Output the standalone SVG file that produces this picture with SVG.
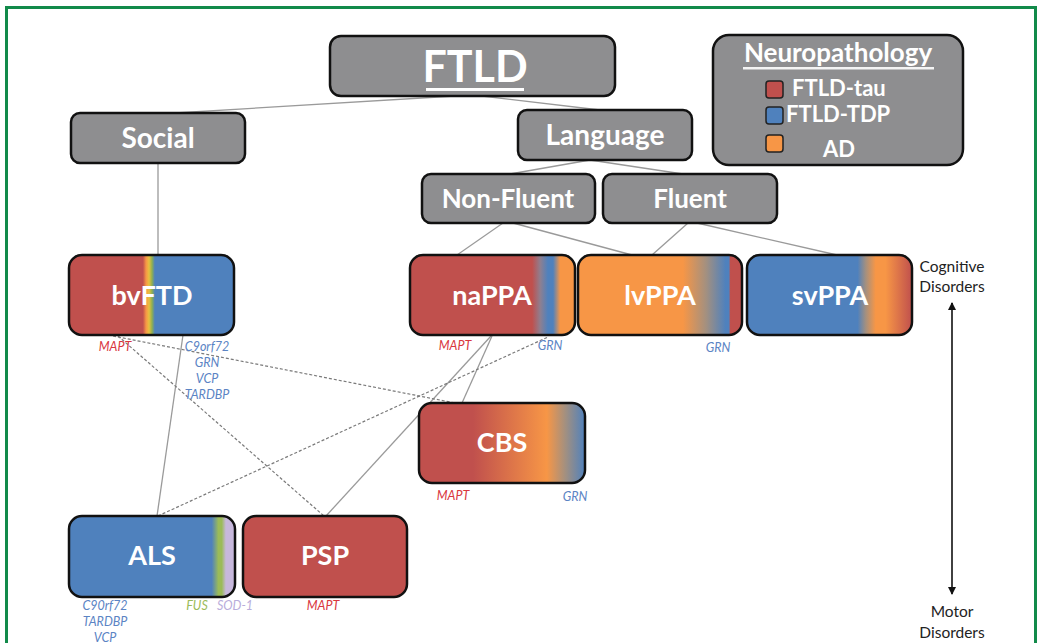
<svg xmlns="http://www.w3.org/2000/svg" width="1042" height="643" viewBox="0 0 1042 643">
<defs>
<style>
.box{stroke:#111;stroke-width:2.5}
.gray{fill:#8e8e90}
.t{font-family:Lato,"Liberation Sans",sans-serif;font-weight:bold;fill:#fff;text-anchor:middle}
.g{font-family:Lato,"Liberation Sans",sans-serif;font-style:italic;font-size:12.5px;text-anchor:middle}
.red{fill:#d9363e}
.blu{fill:#5b84c4}
.lbl{font-family:Lato,"Liberation Sans",sans-serif;font-size:15.5px;fill:#222;text-anchor:middle}
.c{stroke:#9a9a9a;stroke-width:1.3;fill:none}
.d{stroke:#7a7a7a;stroke-width:1.2;stroke-dasharray:3 2;fill:none}
</style>
<linearGradient id="gbv" x1="0" x2="1" y1="0" y2="0">
<stop offset="0" stop-color="#c0504d"/><stop offset="0.448" stop-color="#c0504d"/><stop offset="0.467" stop-color="#f79646"/><stop offset="0.485" stop-color="#e8c040"/><stop offset="0.503" stop-color="#8fb050"/><stop offset="0.52" stop-color="#4f81bd"/><stop offset="1" stop-color="#4f81bd"/>
</linearGradient>
<linearGradient id="gna" x1="0" x2="1" y1="0" y2="0">
<stop offset="0" stop-color="#c0504d"/><stop offset="0.74" stop-color="#c0504d"/><stop offset="0.79" stop-color="#8e7f90"/><stop offset="0.836" stop-color="#4f81bd"/><stop offset="0.867" stop-color="#4f81bd"/><stop offset="0.91" stop-color="#f79646"/><stop offset="1" stop-color="#f79646"/>
</linearGradient>
<linearGradient id="glv" x1="0" x2="1" y1="0" y2="0">
<stop offset="0" stop-color="#f79646"/><stop offset="0.64" stop-color="#f79646"/><stop offset="0.78" stop-color="#a4907f"/><stop offset="0.9" stop-color="#4f81bd"/><stop offset="0.92" stop-color="#4f81bd"/><stop offset="0.93" stop-color="#c0504d"/><stop offset="1" stop-color="#c0504d"/>
</linearGradient>
<linearGradient id="gsv" x1="0" x2="1" y1="0" y2="0">
<stop offset="0" stop-color="#4f81bd"/><stop offset="0.67" stop-color="#4f81bd"/><stop offset="0.72" stop-color="#a4907f"/><stop offset="0.78" stop-color="#f79646"/><stop offset="0.84" stop-color="#f79646"/><stop offset="1" stop-color="#c0504d"/>
</linearGradient>
<linearGradient id="gcb" x1="0" x2="1" y1="0" y2="0">
<stop offset="0" stop-color="#c0504d"/><stop offset="0.325" stop-color="#c0504d"/><stop offset="0.77" stop-color="#f79646"/><stop offset="0.88" stop-color="#a4907f"/><stop offset="1" stop-color="#4f81bd"/>
</linearGradient>
<linearGradient id="gal" x1="0" x2="1" y1="0" y2="0">
<stop offset="0" stop-color="#4f81bd"/><stop offset="0.86" stop-color="#4f81bd"/><stop offset="0.9" stop-color="#9bbb59"/><stop offset="0.92" stop-color="#9bbb59"/><stop offset="0.945" stop-color="#c7b8dc"/><stop offset="1" stop-color="#c7b8dc"/>
</linearGradient>
<marker id="ah" markerWidth="8" markerHeight="8" refX="7" refY="4" orient="auto" markerUnits="userSpaceOnUse">
<path d="M0,0 L8,4 L0,8 Z" fill="#111"/>
</marker>
</defs>
<rect x="0" y="0" width="1042" height="643" fill="#fff"/>
<rect x="6.5" y="7.5" width="1029" height="680" fill="none" stroke="#128a4a" stroke-width="3"/>

<g id="connectors">
<line class="c" x1="455" y1="96" x2="175" y2="113"/>
<line class="c" x1="482" y1="96" x2="600" y2="110"/>
<line class="c" x1="590" y1="160" x2="510" y2="174"/>
<line class="c" x1="590" y1="160" x2="683" y2="174"/>
<line class="c" x1="158" y1="163" x2="158" y2="255"/>
<line class="c" x1="503" y1="223" x2="457" y2="255"/>
<line class="c" x1="513" y1="223" x2="632" y2="255"/>
<line class="c" x1="688" y1="223" x2="652" y2="255"/>
<line class="c" x1="697" y1="223" x2="837" y2="255"/>
<line class="c" x1="183" y1="335" x2="157" y2="516"/>
<line class="c" x1="491" y1="336" x2="326" y2="516"/>
<line class="c" x1="492" y1="336" x2="462" y2="403"/>
<line class="d" x1="113" y1="336" x2="455" y2="403"/>
<line class="d" x1="118" y1="336" x2="324" y2="516"/>
<line class="d" x1="158" y1="516" x2="548" y2="337"/>
<line stroke="#111" stroke-width="1.6" x1="952" y1="310" x2="952" y2="303" marker-end="url(#ah)"/>
<line stroke="#111" stroke-width="1.6" x1="952" y1="303" x2="952" y2="594" marker-end="url(#ah)"/>
</g>

<g id="ftld">
<rect class="box gray" x="330" y="36" width="285" height="60" rx="11"/>
<text class="t" x="475" y="82" font-size="43">FTLD</text>
<rect x="426" y="88" width="98" height="3" fill="#fff"/>
</g>
<g id="social">
<rect class="box gray" x="71" y="113" width="174" height="50" rx="9"/>
<text class="t" x="158" y="148" font-size="28">Social</text>
</g>
<g id="language">
<rect class="box gray" x="518" y="110" width="174" height="50" rx="9"/>
<text class="t" x="605" y="145" font-size="28">Language</text>
</g>
<g id="nonfluent">
<rect class="box gray" x="422" y="174" width="173" height="49" rx="9"/>
<text class="t" x="508" y="208" font-size="26">Non-Fluent</text>
</g>
<g id="fluent">
<rect class="box gray" x="603" y="174" width="174" height="49" rx="9"/>
<text class="t" x="690" y="208" font-size="26">Fluent</text>
</g>
<g id="legend">
<rect class="box gray" x="713" y="35" width="250" height="130" rx="16"/>
<text class="t" x="838" y="62" font-size="26" fill="#f4f4f4">Neuropathology</text>
<rect x="743" y="67" width="191" height="2.5" fill="#f4f4f4"/>
<rect x="766" y="81" width="17" height="17" rx="3" fill="#c0504d" stroke="#222" stroke-width="1.5"/>
<text class="t" x="792" y="96" font-size="22" style="text-anchor:start">FTLD-tau</text>
<rect x="766" y="107" width="17" height="17" rx="3" fill="#4f81bd" stroke="#222" stroke-width="1.5"/>
<text class="t" x="786" y="122" font-size="22" style="text-anchor:start">FTLD-TDP</text>
<rect x="766" y="135" width="17" height="17" rx="3" fill="#f79646" stroke="#222" stroke-width="1.5"/>
<text class="t" x="823" y="157" font-size="22" style="text-anchor:start">AD</text>
</g>

<g id="bvftd">
<rect class="box" x="69" y="255" width="165" height="80" rx="13" fill="url(#gbv)"/>
<text class="t" x="152" y="305" font-size="27">bvFTD</text>
<text class="g red" x="115" y="351">MAPT</text>
<text class="g blu" x="207" y="351">C9orf72</text>
<text class="g blu" x="207" y="367">GRN</text>
<text class="g blu" x="207" y="383">VCP</text>
<text class="g blu" x="207" y="399">TARDBP</text>
</g>
<g id="nappa">
<rect class="box" x="410" y="255" width="165" height="80" rx="13" fill="url(#gna)"/>
<text class="t" x="492" y="305" font-size="27">naPPA</text>
<text class="g red" x="455" y="350">MAPT</text>
<text class="g blu" x="550" y="350">GRN</text>
</g>
<g id="lvppa">
<rect class="box" x="578" y="255" width="164" height="80" rx="13" fill="url(#glv)"/>
<text class="t" x="660" y="305" font-size="27">lvPPA</text>
<text class="g blu" x="718" y="352">GRN</text>
</g>
<g id="svppa">
<rect class="box" x="747" y="255" width="165" height="80" rx="13" fill="url(#gsv)"/>
<text class="t" x="830" y="305" font-size="27">svPPA</text>
</g>
<g id="axis-labels">
<text class="lbl" x="952" y="272">Cognitive</text>
<text class="lbl" x="952" y="292">Disorders</text>
<text class="lbl" x="952" y="617">Motor</text>
<text class="lbl" x="952" y="638">Disorders</text>
</g>
<g id="cbs">
<rect class="box" x="419" y="403" width="166" height="80" rx="13" fill="url(#gcb)"/>
<text class="t" x="502" y="452" font-size="27">CBS</text>
<text class="g red" x="453" y="500">MAPT</text>
<text class="g blu" x="575" y="501">GRN</text>
</g>
<g id="als">
<rect class="box" x="69" y="516" width="166" height="81" rx="13" fill="url(#gal)"/>
<text class="t" x="152" y="565" font-size="27">ALS</text>
<text class="g blu" x="105" y="610">C90rf72</text>
<text class="g blu" x="105" y="626">TARDBP</text>
<text class="g blu" x="105" y="642">VCP</text>
<text class="g" x="197" y="610" fill="#9bbb59">FUS</text>
<text class="g" x="235" y="610" fill="#b9addb">SOD-1</text>
</g>
<g id="psp">
<rect class="box" x="243" y="516" width="164" height="81" rx="13" fill="#c0504d"/>
<text class="t" x="325" y="565" font-size="27">PSP</text>
<text class="g red" x="323" y="610">MAPT</text>
</g>
</svg>
